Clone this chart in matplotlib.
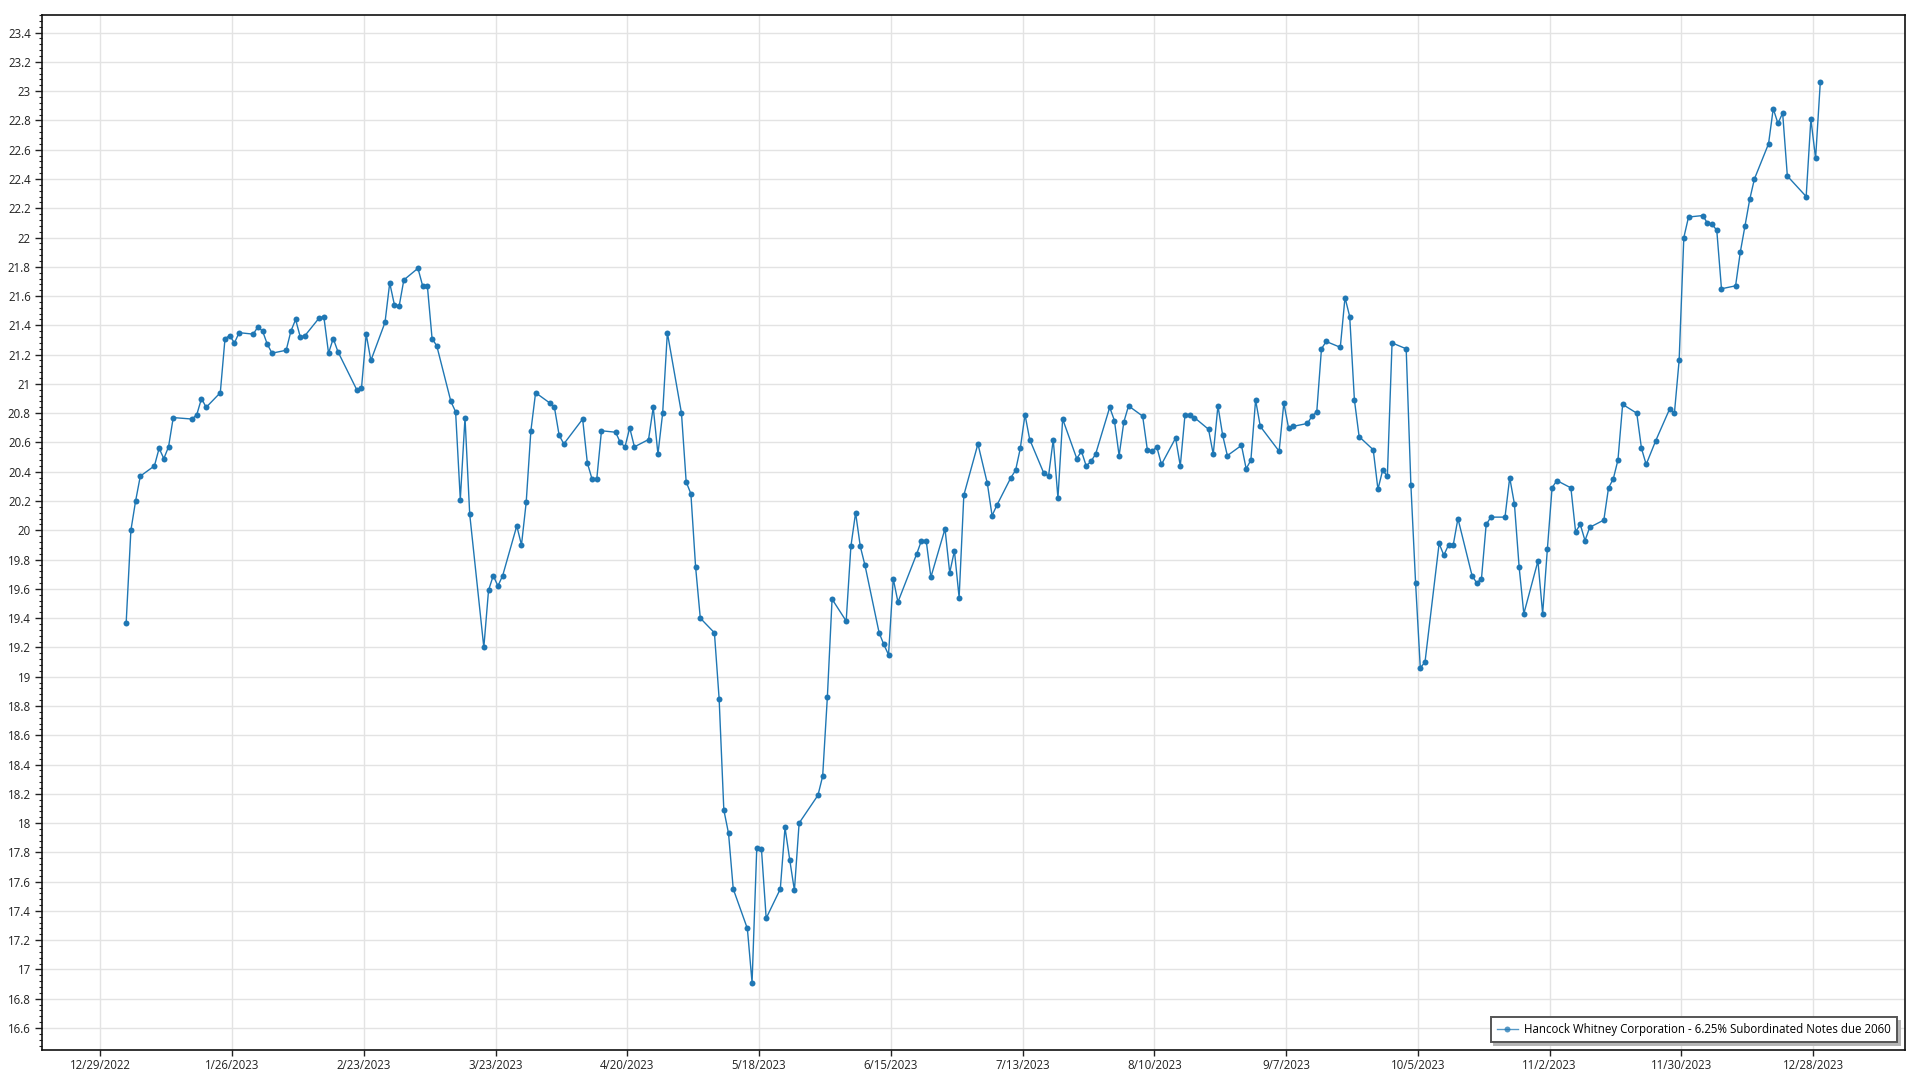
import matplotlib
matplotlib.use("Agg")
import matplotlib.pyplot as plt
from matplotlib.ticker import FixedLocator, MultipleLocator, FuncFormatter
import pandas as pd

plt.rcParams['font.family'] = ['Open Sans', 'DejaVu Sans']

series_name = "Hancock Whitney Corporation - 6.25% Subordinated Notes due 2060"

# closing prices, 2023
dates = [
    "2023-01-03", "2023-01-04", "2023-01-05", "2023-01-06", "2023-01-09", "2023-01-10", "2023-01-11",
    "2023-01-12", "2023-01-13", "2023-01-17", "2023-01-18", "2023-01-19", "2023-01-20", "2023-01-23",
    "2023-01-24", "2023-01-25", "2023-01-26", "2023-01-27", "2023-01-30", "2023-01-31",
    "2023-02-01", "2023-02-02", "2023-02-03", "2023-02-06", "2023-02-07", "2023-02-08", "2023-02-09",
    "2023-02-10", "2023-02-13", "2023-02-14", "2023-02-15", "2023-02-16", "2023-02-17", "2023-02-21",
    "2023-02-22", "2023-02-23", "2023-02-24", "2023-02-27", "2023-02-28",
    "2023-03-01", "2023-03-02", "2023-03-03", "2023-03-06", "2023-03-07", "2023-03-08", "2023-03-09",
    "2023-03-10", "2023-03-13", "2023-03-14", "2023-03-15", "2023-03-16", "2023-03-17", "2023-03-20",
    "2023-03-21", "2023-03-22", "2023-03-23", "2023-03-24", "2023-03-27", "2023-03-28", "2023-03-29",
    "2023-03-30", "2023-03-31",
    "2023-04-03", "2023-04-04", "2023-04-05", "2023-04-06", "2023-04-10", "2023-04-11", "2023-04-12",
    "2023-04-13", "2023-04-14", "2023-04-17", "2023-04-18", "2023-04-19", "2023-04-20", "2023-04-21",
    "2023-04-24", "2023-04-25", "2023-04-26", "2023-04-27", "2023-04-28",
    "2023-05-01", "2023-05-02", "2023-05-03", "2023-05-04", "2023-05-05", "2023-05-08", "2023-05-09",
    "2023-05-10", "2023-05-11", "2023-05-12", "2023-05-15", "2023-05-16", "2023-05-17", "2023-05-18",
    "2023-05-19", "2023-05-22", "2023-05-23", "2023-05-24", "2023-05-25", "2023-05-26", "2023-05-30",
    "2023-05-31",
    "2023-06-01", "2023-06-02", "2023-06-05", "2023-06-06", "2023-06-07", "2023-06-08", "2023-06-09",
    "2023-06-12", "2023-06-13", "2023-06-14", "2023-06-15", "2023-06-16", "2023-06-20", "2023-06-21",
    "2023-06-22", "2023-06-23", "2023-06-26", "2023-06-27", "2023-06-28", "2023-06-29", "2023-06-30",
    "2023-07-03", "2023-07-05", "2023-07-06", "2023-07-07", "2023-07-10", "2023-07-11", "2023-07-12",
    "2023-07-13", "2023-07-14", "2023-07-17", "2023-07-18", "2023-07-19", "2023-07-20", "2023-07-21",
    "2023-07-24", "2023-07-25", "2023-07-26", "2023-07-27", "2023-07-28", "2023-07-31",
    "2023-08-01", "2023-08-02", "2023-08-03", "2023-08-04", "2023-08-07", "2023-08-08", "2023-08-09",
    "2023-08-10", "2023-08-11", "2023-08-14", "2023-08-15", "2023-08-16", "2023-08-17", "2023-08-18",
    "2023-08-21", "2023-08-22", "2023-08-23", "2023-08-24", "2023-08-25", "2023-08-28", "2023-08-29",
    "2023-08-30", "2023-08-31",
    "2023-09-01", "2023-09-05", "2023-09-06", "2023-09-07", "2023-09-08", "2023-09-11", "2023-09-12",
    "2023-09-13", "2023-09-14", "2023-09-15", "2023-09-18", "2023-09-19", "2023-09-20", "2023-09-21",
    "2023-09-22", "2023-09-25", "2023-09-26", "2023-09-27", "2023-09-28", "2023-09-29",
    "2023-10-02", "2023-10-03", "2023-10-04", "2023-10-05", "2023-10-06", "2023-10-09", "2023-10-10",
    "2023-10-11", "2023-10-12", "2023-10-13", "2023-10-16", "2023-10-17", "2023-10-18", "2023-10-19",
    "2023-10-20", "2023-10-23", "2023-10-24", "2023-10-25", "2023-10-26", "2023-10-27", "2023-10-30",
    "2023-10-31",
    "2023-11-01", "2023-11-02", "2023-11-03", "2023-11-06", "2023-11-07", "2023-11-08", "2023-11-09",
    "2023-11-10", "2023-11-13", "2023-11-14", "2023-11-15", "2023-11-16", "2023-11-17", "2023-11-20",
    "2023-11-21", "2023-11-22", "2023-11-24", "2023-11-27", "2023-11-28", "2023-11-29", "2023-11-30",
    "2023-12-01", "2023-12-04", "2023-12-05", "2023-12-06", "2023-12-07", "2023-12-08", "2023-12-11",
    "2023-12-12", "2023-12-13", "2023-12-14", "2023-12-15", "2023-12-18", "2023-12-19", "2023-12-20",
    "2023-12-21", "2023-12-22", "2023-12-26", "2023-12-27", "2023-12-28", "2023-12-29",
]

prices = [
    19.37, 20.00, 20.20, 20.37, 20.44, 20.56, 20.49,
    20.57, 20.77, 20.76, 20.79, 20.90, 20.84, 20.94,
    21.31, 21.33, 21.28, 21.35, 21.34, 21.39,
    21.36, 21.27, 21.21, 21.23, 21.36, 21.44, 21.32,
    21.33, 21.45, 21.46, 21.21, 21.31, 21.22, 20.96,
    20.97, 21.34, 21.16, 21.42, 21.69,
    21.54, 21.53, 21.71, 21.79, 21.67, 21.67, 21.31,
    21.26, 20.88, 20.81, 20.21, 20.77, 20.11, 19.20,
    19.59, 19.69, 19.62, 19.69, 20.03, 19.90, 20.19,
    20.68, 20.94,
    20.87, 20.84, 20.65, 20.59, 20.76, 20.46, 20.35,
    20.35, 20.68, 20.67, 20.60, 20.57, 20.70, 20.57,
    20.62, 20.84, 20.52, 20.80, 21.35,
    20.80, 20.33, 20.25, 19.75, 19.40, 19.30, 18.85,
    18.09, 17.93, 17.55, 17.28, 16.91, 17.83, 17.82,
    17.35, 17.55, 17.97, 17.75, 17.54, 18.00, 18.19,
    18.32,
    18.86, 19.53, 19.38, 19.89, 20.12, 19.89, 19.76,
    19.30, 19.22, 19.15, 19.67, 19.51, 19.84, 19.93,
    19.93, 19.68, 20.01, 19.71, 19.86, 19.54, 20.24,
    20.59, 20.32, 20.10, 20.17, 20.36, 20.41, 20.56,
    20.79, 20.62, 20.39, 20.37, 20.62, 20.22, 20.76,
    20.49, 20.54, 20.44, 20.47, 20.52, 20.84,
    20.75, 20.51, 20.74, 20.85, 20.78, 20.55, 20.54,
    20.57, 20.45, 20.63, 20.44, 20.79, 20.79, 20.77,
    20.69, 20.52, 20.85, 20.65, 20.51, 20.58, 20.42,
    20.48, 20.89,
    20.71, 20.54, 20.87, 20.70, 20.71, 20.73, 20.78,
    20.81, 21.24, 21.29, 21.25, 21.59, 21.46, 20.89,
    20.64, 20.55, 20.28, 20.41, 20.37, 21.28,
    21.24, 20.31, 19.64, 19.06, 19.10, 19.91, 19.83,
    19.90, 19.90, 20.08, 19.69, 19.64, 19.67, 20.04,
    20.09, 20.09, 20.36, 20.18, 19.75, 19.43, 19.79,
    19.43,
    19.87, 20.29, 20.34, 20.29, 19.99, 20.04, 19.93,
    20.02, 20.07, 20.29, 20.35, 20.48, 20.86, 20.80,
    20.56, 20.45, 20.61, 20.83, 20.80, 21.16, 22.00,
    22.14, 22.15, 22.10, 22.09, 22.05, 21.65, 21.67,
    21.90, 22.08, 22.26, 22.40, 22.64, 22.88, 22.78,
    22.85, 22.42, 22.28, 22.81, 22.54, 23.06,
]

# the source chart stamps each close around midday
x = pd.to_datetime(dates) + pd.Timedelta(hours=12)

fig = plt.figure(figsize=(19.2, 10.8), dpi=100)
ax = fig.add_axes([42 / 1920, 1 - 1050 / 1080, 1863 / 1920, 1035 / 1080])

ax.plot(x, prices, color='#1f77b4', linewidth=1.0, marker='o', markersize=4.3,
        markerfacecolor='#1f77b4', markeredgewidth=0, label=series_name)

ax.set_xlim(pd.Timestamp('2022-12-16 14:40'), pd.Timestamp('2024-01-16 12:00'))
ax.set_ylim(16.45, 23.52)

# x ticks every 4 weeks starting 12/29/2022
xticks = pd.date_range('2022-12-29', periods=14, freq='28D')
ax.xaxis.set_major_locator(FixedLocator(matplotlib.dates.date2num(xticks)))
ax.xaxis.set_major_formatter(FuncFormatter(
    lambda v, p: (lambda d: f"{d.month}/{d.day}/{d.year}")(matplotlib.dates.num2date(v))))

ax.yaxis.set_major_locator(MultipleLocator(0.2))
ax.yaxis.set_minor_locator(MultipleLocator(0.04))
ax.yaxis.set_major_formatter(FuncFormatter(lambda v, p: f"{round(v, 1):g}"))

ax.tick_params(axis='both', which='major', labelsize=8.3, colors='#222222', length=5, width=1)
ax.tick_params(axis='y', which='minor', length=2.5, width=0.8, color='#222222')
ax.tick_params(axis='x', which='major', length=4, pad=2.5)
ax.tick_params(axis='y', which='major', pad=3)

ax.grid(True, which='major', color='#e3e3e3', linewidth=1.0)
ax.set_axisbelow(True)
for s in ax.spines.values():
    s.set_color('#111111')
    s.set_linewidth(1.2)

leg = ax.legend(loc='lower right', fontsize=8.3, frameon=True, fancybox=False,
                edgecolor='#555555', framealpha=1, borderaxespad=0.7,
                handlelength=1.8, handletextpad=0.6, borderpad=0.5,
                shadow={'ox': 2.5, 'oy': -2.5, 'color': '#b5b5b5', 'alpha': 1.0})
leg.get_frame().set_linewidth(1.4)
for h in leg.legend_handles:
    h.set_alpha(0.75)

fig.savefig('out.png', dpi=100)
